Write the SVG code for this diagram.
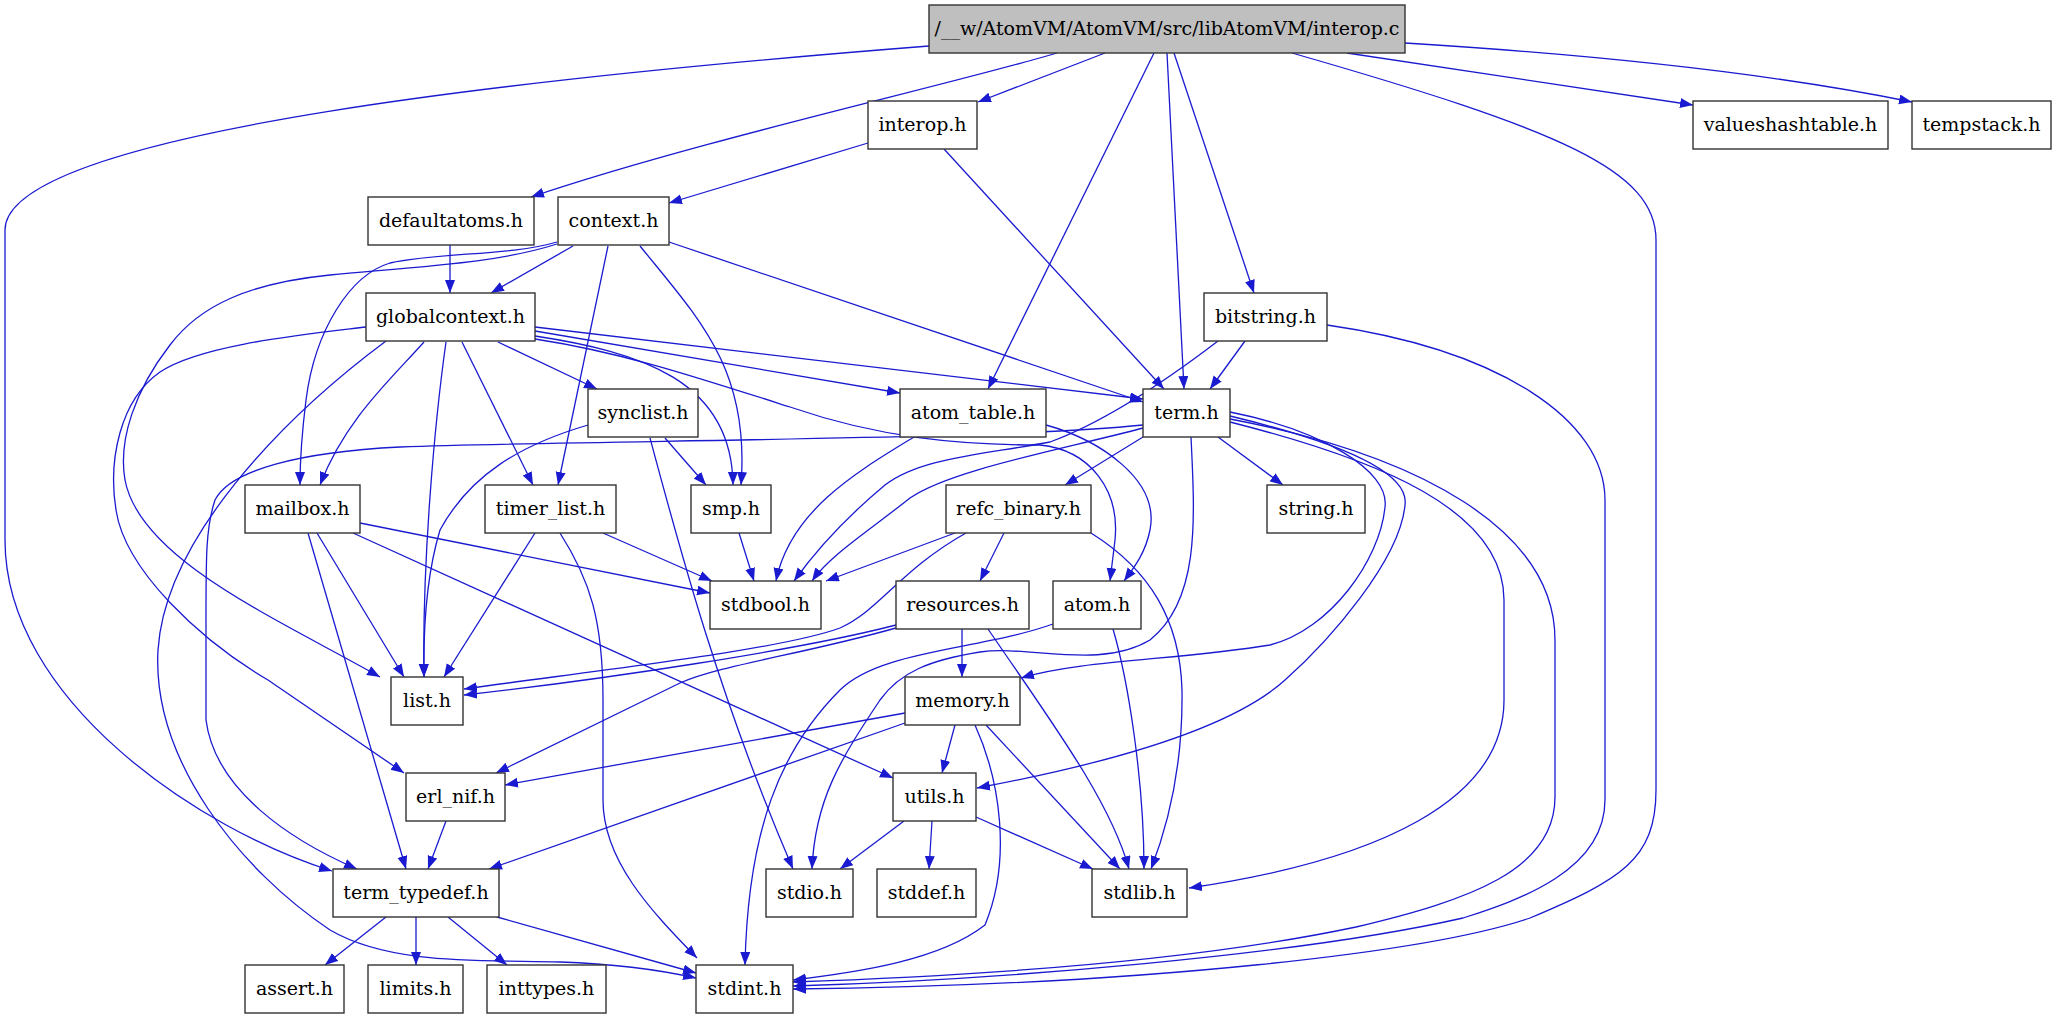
<svg xmlns="http://www.w3.org/2000/svg" width="2056" height="1019" viewBox="0 0 2056 1019">
<style>
.n rect{fill:#fff;stroke:#333;stroke-width:1.4}
.n text{font-family:"DejaVu Serif",serif;font-size:19px;text-anchor:middle;fill:#000}
#root rect{fill:#bfbfbf}
.e path{fill:none;stroke:#1a1ad0;stroke-width:1.3;marker-end:url(#ah)}
</style>
<defs>
<marker id="ah" markerUnits="userSpaceOnUse" markerWidth="14" markerHeight="11" refX="13" refY="5" orient="auto">
<path d="M0,0 L13,5 L0,10 z" fill="#1a1ad0"/>
</marker>
</defs>
<rect width="2056" height="1019" fill="#fff"/>
<g id="edges" class="e">
<path d="M929,46 C560,75 5,130 5,230 L5,540 C5,700 200,830 332,871"/>
<path d="M1057,53 C950,85 700,140 531,197"/>
<path d="M1105,53 L978,102"/>
<path d="M1154,53 L988,389"/>
<path d="M1167,53 L1184,389"/>
<path d="M1174,53 L1254,293"/>
<path d="M1292,53 C1560,130 1656,170 1656,240 L1656,790 C1656,860 1620,880 1530,918 C1430,952 1150,985 793,989"/>
<path d="M1347,53 L1693,105"/>
<path d="M1405,43 C1600,55 1780,75 1912,102"/>
<path d="M868,143 L669,203"/>
<path d="M944,149 L1164,389"/>
<path d="M450,245 L450,293"/>
<path d="M573,246 L491,293"/>
<path d="M608,246 L558,485"/>
<path d="M640,246 C700,320 750,370 741,485"/>
<path d="M669,242 L1143,402"/>
<path d="M557,242 C510,256 440,252 390,263 C350,275 315,330 306,400 C301,440 300,460 300,485"/>
<path d="M557,244 C500,262 440,265 330,275 C250,283 200,305 170,345 C135,390 118,440 125,480 C140,560 280,620 380,677"/>
<path d="M366,327 C300,335 200,345 160,372 C120,400 108,460 116,510 C125,570 200,640 268,680 L404,773"/>
<path d="M386,341 C280,420 165,540 158,650 C152,760 240,870 330,930 C390,965 480,960 560,962 C620,964 660,970 696,978"/>
<path d="M424,342 C390,380 345,420 320,485"/>
<path d="M446,342 C435,420 422,560 424,677"/>
<path d="M462,342 L533,485"/>
<path d="M498,342 L597,389"/>
<path d="M535,327 L1143,399"/>
<path d="M535,331 L900,393"/>
<path d="M535,336 C640,352 732,380 733,485"/>
<path d="M535,339 C620,352 690,375 790,407 C880,438 960,445 1040,445 C1090,450 1120,490 1115,540 L1110,581"/>
<path d="M1245,341 L1210,389"/>
<path d="M1218,341 C1180,370 1110,420 1050,442 C980,455 920,458 885,485 C855,510 820,545 794,581"/>
<path d="M1327,325 C1500,350 1605,420 1605,500 L1605,800 C1605,870 1520,900 1463,918 C1300,955 1000,980 793,986"/>
<path d="M588,425 C520,445 470,475 440,530 C428,570 423,620 424,677"/>
<path d="M650,438 C680,550 720,700 793,869"/>
<path d="M665,438 L706,485"/>
<path d="M914,437 C860,470 790,510 776,581"/>
<path d="M1046,425 C1100,440 1160,480 1150,530 C1145,555 1132,570 1124,581"/>
<path d="M1143,425 C1000,440 600,440 400,447 C300,452 230,470 215,500 C205,530 206,560 206,650 L206,720 C215,790 290,840 357,869"/>
<path d="M1143,428 C1060,450 950,470 910,498 C870,530 830,555 812,581"/>
<path d="M1143,437 L1065,485"/>
<path d="M1218,437 L1283,485"/>
<path d="M1191,437 C1195,520 1200,600 1150,640 C1100,670 1030,645 980,652 C930,660 900,672 880,700 C840,760 815,800 812,869"/>
<path d="M1230,412 C1320,430 1390,470 1385,507 C1380,560 1330,630 1270,645 C1180,660 1080,660 1021,678"/>
<path d="M1230,416 C1330,440 1410,470 1405,505 C1400,560 1330,640 1285,680 C1230,730 1100,765 977,788"/>
<path d="M1230,422 C1380,460 1504,510 1504,600 L1504,700 C1504,800 1380,860 1189,888"/>
<path d="M1230,419 C1420,455 1555,530 1555,640 L1555,797 C1555,870 1470,900 1356,927 C1200,960 1000,975 793,982"/>
<path d="M317,533 L404,677"/>
<path d="M308,533 L406,869"/>
<path d="M353,533 L893,778"/>
<path d="M360,523 L710,593"/>
<path d="M535,533 L444,677"/>
<path d="M560,533 C590,580 603,620 603,700 L603,800 C603,860 650,910 697,958"/>
<path d="M603,533 L712,581"/>
<path d="M739,533 L754,581"/>
<path d="M1004,533 L980,581"/>
<path d="M955,533 L826,581"/>
<path d="M966,533 C900,570 880,610 840,628 C780,650 600,670 464,689"/>
<path d="M1091,533 C1150,570 1180,620 1182,690 C1183,760 1170,820 1151,869"/>
<path d="M896,625 C800,650 600,680 464,695"/>
<path d="M896,628 C800,655 720,665 680,683 L496,773"/>
<path d="M962,629 L962,677"/>
<path d="M988,629 C1050,720 1110,800 1129,869"/>
<path d="M1053,624 C980,650 880,650 840,690 C780,750 748,830 745,965"/>
<path d="M1113,629 C1128,680 1144,780 1144,869"/>
<path d="M905,713 L505,785"/>
<path d="M905,723 L489,869"/>
<path d="M955,725 L942,773"/>
<path d="M975,725 C1000,780 1012,860 985,925 C940,960 860,972 793,980"/>
<path d="M986,725 L1120,869"/>
<path d="M446,821 L428,869"/>
<path d="M904,821 L840,869"/>
<path d="M932,821 L929,869"/>
<path d="M976,817 L1093,869"/>
<path d="M386,917 L325,965"/>
<path d="M416,917 L416,965"/>
<path d="M448,917 L507,965"/>
<path d="M497,917 L696,973"/>
</g>
<g id="root" class="n"><rect x="929" y="5" width="476" height="48"/><text x="1167" y="35">/__w/AtomVM/AtomVM/src/libAtomVM/interop.c</text></g>
<g id="interop_h" class="n"><rect x="868" y="101" width="109" height="48"/><text x="922.5" y="131">interop.h</text></g>
<g id="valueshashtable_h" class="n"><rect x="1693" y="101" width="195" height="48"/><text x="1790.5" y="131">valueshashtable.h</text></g>
<g id="tempstack_h" class="n"><rect x="1912" y="101" width="139" height="48"/><text x="1981.5" y="131">tempstack.h</text></g>
<g id="defaultatoms_h" class="n"><rect x="368" y="197" width="166" height="48"/><text x="451" y="227">defaultatoms.h</text></g>
<g id="context_h" class="n"><rect x="558" y="197" width="111" height="48"/><text x="613.5" y="227">context.h</text></g>
<g id="globalcontext_h" class="n"><rect x="366" y="293" width="169" height="48"/><text x="450.5" y="323">globalcontext.h</text></g>
<g id="bitstring_h" class="n"><rect x="1204" y="293" width="123" height="48"/><text x="1265.5" y="323">bitstring.h</text></g>
<g id="synclist_h" class="n"><rect x="588" y="389" width="110" height="48"/><text x="643" y="419">synclist.h</text></g>
<g id="atom_table_h" class="n"><rect x="900" y="389" width="146" height="48"/><text x="973" y="419">atom_table.h</text></g>
<g id="term_h" class="n"><rect x="1143" y="389" width="87" height="48"/><text x="1186.5" y="419">term.h</text></g>
<g id="mailbox_h" class="n"><rect x="245" y="485" width="115" height="48"/><text x="302.5" y="515">mailbox.h</text></g>
<g id="timer_list_h" class="n"><rect x="485" y="485" width="131" height="48"/><text x="550.5" y="515">timer_list.h</text></g>
<g id="smp_h" class="n"><rect x="691" y="485" width="80" height="48"/><text x="731" y="515">smp.h</text></g>
<g id="refc_binary_h" class="n"><rect x="946" y="485" width="145" height="48"/><text x="1018.5" y="515">refc_binary.h</text></g>
<g id="string_h" class="n"><rect x="1267" y="485" width="98" height="48"/><text x="1316" y="515">string.h</text></g>
<g id="stdbool_h" class="n"><rect x="710" y="581" width="111" height="48"/><text x="765.5" y="611">stdbool.h</text></g>
<g id="resources_h" class="n"><rect x="896" y="581" width="133" height="48"/><text x="962.5" y="611">resources.h</text></g>
<g id="atom_h" class="n"><rect x="1053" y="581" width="88" height="48"/><text x="1097" y="611">atom.h</text></g>
<g id="list_h" class="n"><rect x="391" y="677" width="72" height="48"/><text x="427" y="707">list.h</text></g>
<g id="memory_h" class="n"><rect x="905" y="677" width="115" height="48"/><text x="962.5" y="707">memory.h</text></g>
<g id="erl_nif_h" class="n"><rect x="406" y="773" width="99" height="48"/><text x="455.5" y="803">erl_nif.h</text></g>
<g id="utils_h" class="n"><rect x="893" y="773" width="83" height="48"/><text x="934.5" y="803">utils.h</text></g>
<g id="term_typedef_h" class="n"><rect x="333" y="869" width="166" height="48"/><text x="416" y="899">term_typedef.h</text></g>
<g id="stdio_h" class="n"><rect x="766" y="869" width="87" height="48"/><text x="809.5" y="899">stdio.h</text></g>
<g id="stddef_h" class="n"><rect x="877" y="869" width="99" height="48"/><text x="926.5" y="899">stddef.h</text></g>
<g id="stdlib_h" class="n"><rect x="1092" y="869" width="95" height="48"/><text x="1139.5" y="899">stdlib.h</text></g>
<g id="assert_h" class="n"><rect x="245" y="965" width="99" height="48"/><text x="294.5" y="995">assert.h</text></g>
<g id="limits_h" class="n"><rect x="368" y="965" width="95" height="48"/><text x="415.5" y="995">limits.h</text></g>
<g id="inttypes_h" class="n"><rect x="487" y="965" width="119" height="48"/><text x="546.5" y="995">inttypes.h</text></g>
<g id="stdint_h" class="n"><rect x="696" y="965" width="97" height="48"/><text x="744.5" y="995">stdint.h</text></g>
</svg>
